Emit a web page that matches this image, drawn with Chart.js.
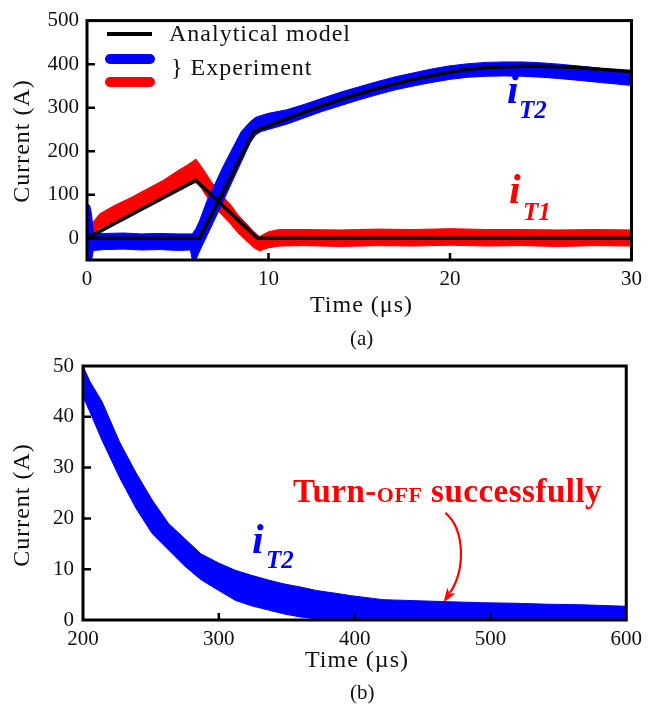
<!DOCTYPE html>
<html>
<head>
<meta charset="utf-8">
<script src="https://cdn.jsdelivr.net/npm/chart.js@4/dist/chart.umd.min.js"></script>
<style>
html,body{margin:0;padding:0;background:#fff;}
body{width:649px;height:709px;position:relative;overflow:hidden;font-family:"Liberation Serif","Times New Roman",serif;color:#111;}
.box{position:absolute;left:0;width:649px;}
.t{position:absolute;white-space:nowrap;line-height:1;}
.ttl{font-size:24px;letter-spacing:1px;}
.rot{transform:translate(-50%,-50%) rotate(-90deg);}
.cap{font-size:21px;}
.bi{font-weight:bold;font-style:italic;}
.bar{position:absolute;border-radius:6px;}
</style>
</head>
<body>
<div class="box" style="top:0;height:300px"><canvas id="ca" width="649" height="300"></canvas></div>
<div class="box" style="top:340px;height:320px"><canvas id="cb" width="649" height="320"></canvas></div>

<!-- chart (a) legend -->
<div class="bar" style="left:107px;top:32px;width:45px;height:4px;background:#000;border-radius:0"></div>
<div class="bar" style="left:105px;top:54px;width:50px;height:10px;background:#0000ff"></div>
<div class="bar" style="left:105px;top:77px;width:50px;height:10px;background:#ff0000"></div>
<div class="t ttl" style="left:169px;top:21px">Analytical model</div>
<div class="t ttl" style="left:171px;top:55px">} Experiment</div>

<!-- chart (a) annotations -->
<div class="t bi" style="left:507px;top:68px;font-size:42px;color:#0000ff">i</div>
<div class="t bi" style="left:519px;top:97px;font-size:25px;color:#0000ff">T2</div>
<div class="t bi" style="left:509px;top:168px;font-size:42px;color:#ff0000">i</div>
<div class="t bi" style="left:523px;top:199px;font-size:25px;color:#ff0000">T1</div>

<!-- chart (a) titles -->
<div class="t ttl rot" style="left:21px;top:141px">Current (A)</div>
<div class="t ttl" style="left:310px;top:292px">Time (μs)</div>
<div class="t cap" style="left:350px;top:328px">(a)</div>

<!-- chart (b) annotations -->
<div class="t bi" style="left:252px;top:518px;font-size:42px;color:#0000ff">i</div>
<div class="t bi" style="left:266px;top:547px;font-size:25px;color:#0000ff">T2</div>
<div class="t" style="left:293px;top:475px;font-size:33px;font-weight:bold;letter-spacing:0.5px;color:#ff0000">Turn-<span style="font-size:22px">OFF</span> successfully</div>

<!-- chart (b) titles -->
<div class="t ttl rot" style="left:21px;top:505px">Current (A)</div>
<div class="t ttl" style="left:305px;top:647px">Time (µs)</div>
<div class="t cap" style="left:350px;top:682px">(b)</div>

<script>
// ---------- chart (a) data ----------
const xTicksA = [0, 10, 20, 30];
const yTicksA = [0, 100, 200, 300, 400, 500];

// analytical model, i_T2
const modelT2Time = [0, 6.2, 9.2, 10, 11, 12, 13, 14, 15, 16, 17, 18, 19, 20, 21, 22, 23, 24, 25, 26, 27, 28, 29, 30];
const modelT2 = [0, 0, 245, 258, 274, 290, 305, 319, 332, 344, 355, 365, 374, 382, 388, 392, 394, 395, 395, 394, 392, 389, 386, 383];
// analytical model, i_T1
const modelT1Time = [0, 6.0, 9.4, 30];
const modelT1 = [0, 133, 0, 0];

// experiment i_T2 (lower / upper edge of the noisy trace)
const expT2Time = [0, 0.05, 0.15, 0.25, 0.35, 1, 2, 3, 4, 5, 5.7, 5.8, 6.0, 6.2, 6.6, 7.0, 7.5, 8.0, 8.5, 9.0, 9.3, 9.6, 10, 11, 12, 13, 14, 15, 16, 17, 18, 19, 20, 21, 22, 23, 24, 25, 26, 27, 28, 29, 30];
const expT2Low = [-3, -50, -50, -50, -28, -26, -25, -27, -26, -28, -27, -50, -50, -30, 5, 40, 85, 130, 175, 220, 238, 245, 250, 262, 277, 292, 305, 318, 330, 341, 350, 358, 365, 370, 372, 373, 372, 370, 367, 363, 359, 355, 351];
const expT2High = [10, 78, 75, 55, 12, 11, 12, 10, 11, 10, 10, 10, 22, 40, 85, 120, 165, 205, 245, 268, 278, 282, 287, 295, 308, 322, 336, 348, 360, 371, 380, 389, 396, 401, 404, 405, 405, 403, 400, 396, 392, 387, 383];

// experiment i_T1
const expT1Time = [0, 0.05, 0.15, 0.3, 0.7, 1.5, 2.4, 3.3, 4.2, 5.0, 5.6, 6.0, 6.3, 6.9, 7.4, 7.9, 8.3, 8.8, 9.2, 9.5, 10, 10.6, 12, 14, 16, 18, 20, 22, 24, 26, 28, 30];
const expT1Low = [-5, -50, -50, 5, 22, 38, 56, 75, 93, 110, 122, 128, 115, 76, 55, 33, 13, -7, -22, -29, -22, -18, -17, -19, -17, -18, -16, -18, -17, -19, -17, -18];
const expT1High = [10, 50, 45, 35, 56, 75, 93, 113, 133, 155, 170, 182, 165, 127, 100, 78, 55, 33, 15, 4, 15, 20, 20, 19, 21, 20, 22, 20, 20, 19, 20, 19];

// ---------- chart (b) data ----------
const xTicksB = [200, 300, 400, 500, 600];
const yTicksB = [0, 10, 20, 30, 40, 50];
const decayTime = [200, 205, 214, 227, 239, 251, 263, 275, 287, 300, 312, 324, 336, 348, 360, 372, 385, 397, 409, 421, 445, 469, 494, 518, 543, 567, 600];
const decayHigh = [50, 47, 43, 35, 29, 23.6, 19, 16, 13, 11.2, 9.8, 8.8, 7.9, 7.1, 6.5, 5.8, 5.3, 4.8, 4.4, 4.0, 3.8, 3.6, 3.4, 3.3, 3.1, 3.0, 2.7];
const decayLow = [44, 41, 35.4, 28, 22, 17, 13.8, 10.6, 7.9, 5.8, 3.9, 2.8, 2.0, 1.2, 0.6, 0.2, 0, 0, 0, 0, 0, 0, 0, 0, 0, 0, 0];
// "Turn-OFF successfully" arrow, in data units (time, current): start, control 1, control 2, tip
const arrowPath = [[466.9, 21.1], [481.5, 17.7], [481.5, 9.8], [465.5, 3.5]];

// ---------- helpers ----------
const FONT = "'Liberation Serif','Times New Roman',serif";
const pts = (xs, ys) => xs.map((x, i) => ({x: x, y: ys[i]}));

const framePlugin = {
  id: 'frame',
  afterDatasetsDraw(chart) {
    const ctx = chart.ctx, a = chart.chartArea;
    const xs = chart.scales.x, ys = chart.scales.y;
    ctx.save();
    ctx.strokeStyle = '#000';
    ctx.lineWidth = 2.5;
    ctx.beginPath();
    xs.ticks.forEach(t => {
      if (t.value > xs.min && t.value < xs.max) {
        const p = xs.getPixelForValue(t.value);
        ctx.moveTo(p, a.bottom); ctx.lineTo(p, a.bottom - 7);
      }
    });
    ys.ticks.forEach(t => {
      if (t.value > ys.min && t.value < ys.max) {
        const p = ys.getPixelForValue(t.value);
        ctx.moveTo(a.left, p); ctx.lineTo(a.left + 8, p);
      }
    });
    ctx.stroke();
    ctx.lineWidth = 3;
    ctx.strokeRect(a.left, a.top, a.right - a.left, a.bottom - a.top);
    ctx.restore();
  }
};

const arrowPlugin = {
  id: 'arrow',
  afterDatasetsDraw(chart) {
    const ctx = chart.ctx, xs = chart.scales.x, ys = chart.scales.y;
    const P = arrowPath.map(p => [xs.getPixelForValue(p[0]), ys.getPixelForValue(p[1])]);
    const tip = P[3], c2 = P[2];
    let dx = tip[0] - c2[0], dy = tip[1] - c2[1];
    const L = Math.hypot(dx, dy); dx /= L; dy /= L;
    const len = 14, hw = 5;
    ctx.save();
    ctx.strokeStyle = '#ff0000'; ctx.fillStyle = '#ff0000'; ctx.lineWidth = 2.2;
    ctx.beginPath();
    ctx.moveTo(P[0][0], P[0][1]);
    ctx.bezierCurveTo(P[1][0], P[1][1], P[2][0], P[2][1], tip[0] - dx * len * 0.8, tip[1] - dy * len * 0.8);
    ctx.stroke();
    ctx.beginPath();
    ctx.moveTo(tip[0], tip[1]);
    ctx.lineTo(tip[0] - dx * len - dy * hw, tip[1] - dy * len + dx * hw);
    ctx.lineTo(tip[0] - dx * len * 0.75, tip[1] - dy * len * 0.75);
    ctx.lineTo(tip[0] - dx * len + dy * hw, tip[1] - dy * len - dx * hw);
    ctx.closePath();
    ctx.fill();
    ctx.restore();
  }
};

function axis(min, max, tickVals, fitFn, pad) {
  return {
    type: 'linear', min: min, max: max,
    afterBuildTicks: s => { s.ticks = tickVals.map(v => ({value: v})); },
    afterFit: fitFn,
    grid: {display: false, drawTicks: false},
    border: {display: false},
    ticks: {padding: pad, color: '#111', autoSkip: false, maxRotation: 0, font: {family: FONT, size: 21}}
  };
}

const common = {
  responsive: false, animation: false, devicePixelRatio: 1,
  elements: {point: {radius: 0}, line: {tension: 0}},
  plugins: {legend: {display: false}, tooltip: {enabled: false}}
};

// ---------- chart (a) ----------
new Chart(document.getElementById('ca'), {
  type: 'line',
  data: {datasets: [
    {label: 'Analytical model iT2', data: pts(modelT2Time, modelT2), borderColor: '#000', borderWidth: 3.5, fill: false},
    {label: 'Analytical model iT1', data: pts(modelT1Time, modelT1), borderColor: '#000', borderWidth: 3.5, fill: false},
    {label: 'Experiment iT2 low', data: pts(expT2Time, expT2Low), borderColor: '#0000ff', borderWidth: 1, fill: false},
    {label: 'Experiment iT2', data: pts(expT2Time, expT2High), borderColor: '#0000ff', borderWidth: 1, backgroundColor: '#0000ff', fill: 2},
    {label: 'Experiment iT1 low', data: pts(expT1Time, expT1Low), borderColor: '#ff0000', borderWidth: 1, fill: false},
    {label: 'Experiment iT1', data: pts(expT1Time, expT1High), borderColor: '#ff0000', borderWidth: 1, backgroundColor: '#ff0000', fill: 4}
  ]},
  options: Object.assign({}, common, {
    layout: {padding: {left: 0, right: 16, top: 12, bottom: 0}},
    scales: {
      x: axis(0, 30, xTicksA, s => { s.height = 40; }, 7),
      y: axis(-50, 500, yTicksA, s => { s.width = 87; }, 8)
    }
  }),
  plugins: [framePlugin]
});

// ---------- chart (b) ----------
new Chart(document.getElementById('cb'), {
  type: 'line',
  data: {datasets: [
    {label: 'iT2 low', data: pts(decayTime, decayLow), borderColor: '#0000ff', borderWidth: 1, fill: false},
    {label: 'iT2', data: pts(decayTime, decayHigh), borderColor: '#0000ff', borderWidth: 1, backgroundColor: '#0000ff', fill: 0}
  ]},
  options: Object.assign({}, common, {
    layout: {padding: {left: 0, right: 16, top: 26, bottom: 0}},
    scales: {
      x: axis(200, 600, xTicksB, s => { s.height = 40; }, 7),
      y: axis(0, 50, yTicksB, s => { s.width = 83; }, 9)
    }
  }),
  plugins: [framePlugin, arrowPlugin]
});
</script>
</body>
</html>
